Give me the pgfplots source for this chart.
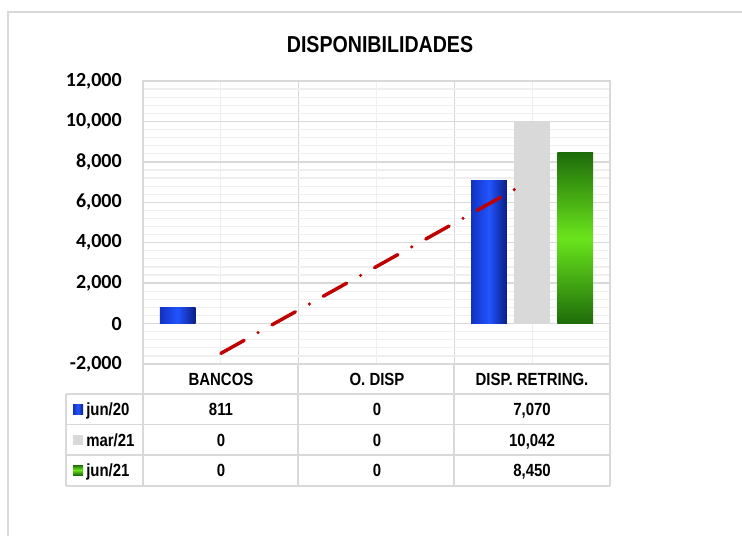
\documentclass[border=0pt]{standalone}
\usepackage{pgfplots}
\pgfplotsset{compat=1.18}
\usepackage{fontspec}
\setmainfont{Liberation Sans}
\newfontfamily\narrow[FakeStretch=0.85]{Liberation Sans}
\newfontfamily\carlito{Carlito}
\definecolor{gridmajor}{HTML}{D9D9D9}
\definecolor{gridminor}{HTML}{EFEFEF}
\definecolor{framegray}{HTML}{D9D9D9}
\definecolor{barGray}{HTML}{D9D9D9}
\definecolor{blueL}{HTML}{1232C0}
\definecolor{blueM}{HTML}{2254FF}
\definecolor{blueR}{HTML}{0A1E84}
\definecolor{greenD}{HTML}{1E6C0A}
\definecolor{greenB}{HTML}{6AE41C}
\definecolor{trendred}{HTML}{C00000}
\newcommand{\tfont}{\narrow\bfseries\fontsize{13.2}{14}\selectfont}
\begin{document}
\begin{tikzpicture}[x=0.75pt,y=0.75pt]
\useasboundingbox (0,0) rectangle (742,536);
\fill[white] (0,0) rectangle (742,536);
\draw[framegray, line width=0.9pt] (8,0) -- (8,524) -- (742,524);
\node[font=\narrow\bfseries\fontsize{17.3}{18}\selectfont] at (380,491) {DISPONIBILIDADES};
\begin{axis}[
  at={(107.25pt,129pt)}, anchor=south west, scale only axis,
  width=350.25pt, height=212.25pt,
  xmin=0.5, xmax=3.5, ymin=-2000, ymax=12000,
  ytick distance=2000, minor y tick num=4,
  scaled y ticks=false,
  xtick={1.5,2.5}, minor xtick={1,2,3}, xticklabels={},
  grid=both,
  major grid style={gridmajor, line width=1pt},
  minor grid style={gridminor, line width=0.9pt},
  axis line style={gridmajor, line width=1pt},
  major tick length=0pt, minor tick length=0pt,
  yticklabel style={font=\carlito\bfseries\fontsize{15}{15}\selectfont, inner sep=0pt, xshift=-15.75pt, anchor=east},
  /pgf/number format/1000 sep={,},
  /pgf/number format/assume math mode=true,
]
\addplot[ybar, bar width=0.23, bar shift=-0.277, draw=none, left color=blueL, right color=blueR, middle color=blueM] coordinates {(1,811)};
\addplot[ybar, bar width=0.23, bar shift=-0.277, draw=none, left color=blueL, right color=blueR, middle color=blueM] coordinates {(3,7070)};
\addplot[ybar, bar width=0.23, bar shift=0, draw=none, fill=barGray] coordinates {(3,10042)};
\addplot[ybar, bar width=0.23, bar shift=0.277, draw=none, top color=greenD, bottom color=greenD, middle color=greenB] coordinates {(3,8450)};
\addplot[trendred, line width=2.6pt, line cap=round, dash pattern=on 20pt off 12pt on 0pt off 12pt, no markers] coordinates {(1,-1475) (2.94,6860)};
\end{axis}
% data table
\begin{scope}[gridmajor, line width=1.1pt]
\draw (66,142) -- (610,142);
\draw (66,111.5) -- (610,111.5);
\draw (66,81) -- (610,81);
\draw (66,50) -- (610,50);
\draw (66,142) -- (66,50);
\foreach \xx in {143,298,454,610} \draw (\xx,172) -- (\xx,50);
\end{scope}
\begin{scope}[every node/.style={font=\tfont, inner sep=0pt, anchor=base}]
\node at (221,151) {BANCOS};
\node at (377,151) {O. DISP};
\node at (532,151) {DISP. RETRING.};
\node[anchor=base west] at (86,120.5) {jun/20};
\node[anchor=base west] at (86,90) {mar/21};
\node[anchor=base west] at (86,59.5) {jun/21};
\node at (221,120.5) {811};
\node at (377,120.5) {0};
\node at (532,120.5) {7,070};
\node at (221,90) {0};
\node at (377,90) {0};
\node at (532,90) {10,042};
\node at (221,59.5) {0};
\node at (377,59.5) {0};
\node at (532,59.5) {8,450};
\end{scope}
% keys
\shade[left color=blueL, right color=blueR, middle color=blueM] (73,122) rectangle (83,132);
\fill[barGray] (73,91) rectangle (83,101);
\shade[top color=greenD, bottom color=greenD, middle color=greenB] (73,61) rectangle (83,71);
\end{tikzpicture}
\end{document}
